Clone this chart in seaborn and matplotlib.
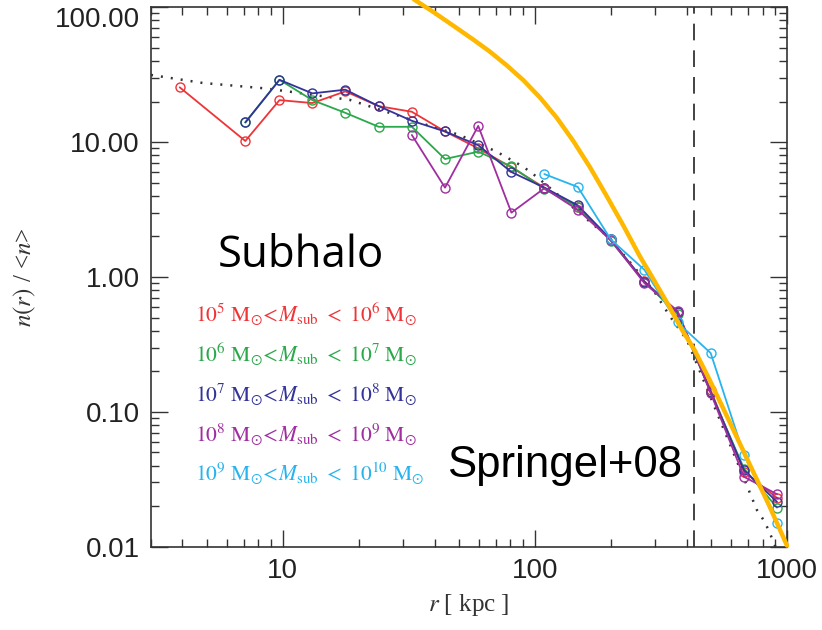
import numpy as np
import pandas as pd
import matplotlib
matplotlib.use("Agg")
import matplotlib.pyplot as plt
import matplotlib.ticker as mticker
import seaborn as sns

# ---- data ----
r_bins = [3.9, 5.3, 7.1, 9.7, 13.1, 17.7, 24.0, 32.5, 44.0, 59.6, 80.7, 109.0,
          148.0, 200.0, 272.0, 368.0, 498.0, 675.0, 913.0]
nan = np.nan
red = [25.5, nan, 10.2, 20.5, 19.5, 23.8, 18.5, 16.8, 12.0, 9.0, 6.5, 4.6,
       3.3, 1.9, 0.93, 0.55, 0.145, 0.036, 0.023]
green = [nan, nan, 14.0, 29.0, 20.5, 16.5, 13.0, 13.0, 7.5, 8.5, 6.6, 4.5,
         3.3, 1.85, 0.92, 0.53, 0.14, 0.038, 0.0195]
blue = [nan, nan, 14.0, 29.0, 23.0, 24.5, 18.5, 14.4, 12.0, 9.5, 6.0, 4.6,
        3.4, 1.9, 0.92, 0.55, 0.14, 0.037, 0.0215]
purple = [nan, nan, nan, nan, nan, nan, nan, 11.3, 4.6, 13.2, 3.0, 4.55,
          3.15, 1.88, 0.90, 0.56, 0.138, 0.033, 0.0245]
cyan = [nan, nan, nan, nan, nan, nan, nan, nan, nan, nan, nan, 5.8,
        4.65, 1.9, 1.13, 0.46, 0.273, 0.048, 0.0149]

series_names = ["1e5-1e6", "1e6-1e7", "1e7-1e8", "1e8-1e9", "1e9-1e10"]
series_vals = [red, green, blue, purple, cyan]
series_colors = ["#ee3438", "#2aa84a", "#33339a", "#a02ea0", "#27b4ee"]
legend_labels = [
    r"$10^5\ \mathrm{M}_{\odot}\!<\!M_{\mathrm{sub}}\ <\ 10^6\ \mathrm{M}_{\odot}$",
    r"$10^6\ \mathrm{M}_{\odot}\!<\!M_{\mathrm{sub}}\ <\ 10^7\ \mathrm{M}_{\odot}$",
    r"$10^7\ \mathrm{M}_{\odot}\!<\!M_{\mathrm{sub}}\ <\ 10^8\ \mathrm{M}_{\odot}$",
    r"$10^8\ \mathrm{M}_{\odot}\!<\!M_{\mathrm{sub}}\ <\ 10^9\ \mathrm{M}_{\odot}$",
    r"$10^9\ \mathrm{M}_{\odot}\!<\!M_{\mathrm{sub}}\ <\ 10^{10}\ \mathrm{M}_{\odot}$",
]

# dotted fit curve
fit_r = [3.0, 4.8, 8.6, 18.4, 38.3, 50.3, 70.5, 89.8, 101.6, 200.0, 295.0,
         344.0, 401.0, 560.0, 760.0, 807.0, 845.0, 900.0]
fit_n = [31.5, 27.5, 25.0, 20.6, 13.2, 11.3, 8.5, 6.58, 5.54, 1.9, 0.80,
         0.508, 0.341, 0.075, 0.0187, 0.0158, 0.0133, 0.0100]

# Springel+08 curve
spr_r = [32.5, 33.4, 39.5, 48.9, 56.9, 66.2, 77.2, 90.0, 104.8, 122.0, 142.0,
         165.5, 193.0, 224.5, 261.0, 290.0, 340.0, 385.0, 429.5, 490.0, 560.0,
         693.0, 850.0, 1000.0]
spr_n = [118.0, 113.3, 92.5, 70.3, 57.7, 47.0, 37.2, 28.8, 21.4, 15.2, 10.2,
         6.5, 3.96, 2.40, 1.42, 1.02, 0.611, 0.40, 0.288, 0.177, 0.105,
         0.0452, 0.0202, 0.0102]

r_vir = 428.0

# ---- figure ----
sns.set_theme(style="ticks")
plt.rcParams["mathtext.fontset"] = "stix"
plt.rcParams["font.family"] = ["Liberation Sans", "DejaVu Sans"]

fig = plt.figure(figsize=(8.22, 6.3), dpi=100)
ax = fig.add_axes([0.1837, 0.1322, 0.9574 - 0.1837, 0.9884 - 0.1322])

ax.set_xscale("log")
ax.set_yscale("log")

for name, vals, col in zip(series_names, series_vals, series_colors):
    df = pd.DataFrame({"r": r_bins, "n": vals}).dropna()
    sns.lineplot(data=df, x="r", y="n", ax=ax, color=col, lw=1.3,
                 marker="o", markersize=6.5, mfc="none", mec=col, mew=1.0,
                 errorbar=None, legend=False, sort=False)

fit_df = pd.DataFrame({"r": fit_r, "n": fit_n})
sns.lineplot(data=fit_df, x="r", y="n", ax=ax, color="#333333", lw=1.8,
             linestyle=(0, (0.8, 3.2)), errorbar=None, legend=False, sort=False,
             zorder=1)

spr_df = pd.DataFrame({"r": spr_r, "n": spr_n})
sns.lineplot(data=spr_df, x="r", y="n", ax=ax, color="#ffb800", lw=3.2,
             errorbar=None, legend=False, sort=False, zorder=5, clip_on=False)

ax.axvline(r_vir, color="#222222", lw=1.2, linestyle=(0, (10, 6)), zorder=0)

ax.set_xlim(3, 1000)
ax.set_ylim(0.01, 100)

ax.xaxis.set_major_locator(mticker.FixedLocator([10, 100, 1000]))
ax.xaxis.set_major_formatter(mticker.FixedFormatter(["10", "100", "1000"]))
ax.xaxis.set_minor_locator(mticker.LogLocator(base=10, subs=np.arange(2, 10)))
ax.xaxis.set_minor_formatter(mticker.NullFormatter())
ax.yaxis.set_major_locator(mticker.FixedLocator([0.01, 0.1, 1, 10, 100]))
ax.yaxis.set_major_formatter(mticker.FixedFormatter(["0.01", "0.10", "1.00", "10.00", "100.00"]))
ax.yaxis.set_minor_locator(mticker.LogLocator(base=10, subs=np.arange(2, 10)))
ax.yaxis.set_minor_formatter(mticker.NullFormatter())

ax.tick_params(which="both", direction="in", top=True, right=True,
               color="#333333", width=1.0)
ax.tick_params(which="major", length=12, labelsize=20, pad=8,
               labelcolor="#222222")
ax.tick_params(which="minor", length=6)
for s in ax.spines.values():
    s.set_color("#333333")
    s.set_linewidth(1.2)

fig.canvas.draw()
ylabels = ax.get_yticklabels()
ylabels[-1].set_va("top")
ylabels[-1].set_y(100)

ax.set_xlabel(r"$r$ [ kpc ]", fontsize=18, family="Liberation Serif",
              color="#333333", labelpad=6)
ax.set_ylabel(r"$n(r)$ / <$n$>", fontsize=18, family="Liberation Serif",
              color="#333333", labelpad=12)

fig.text(218 / 822, 1 - 256 / 630, "Subhalo", fontsize=31.5,
         family="Open Sans", color="black", va="center", ha="left")
fig.text(447 / 822, 1 - 466 / 630, "Springel+08", fontsize=31.5,
         family="Liberation Sans", color="black", va="center", ha="left")

y0 = 314
for i, (lab, col) in enumerate(zip(legend_labels, series_colors)):
    fig.text(195 / 822, 1 - (y0 + 40 * i) / 630, lab, fontsize=15.5,
             color=col, va="center", ha="left")

fig.savefig("out.png", dpi=100)
